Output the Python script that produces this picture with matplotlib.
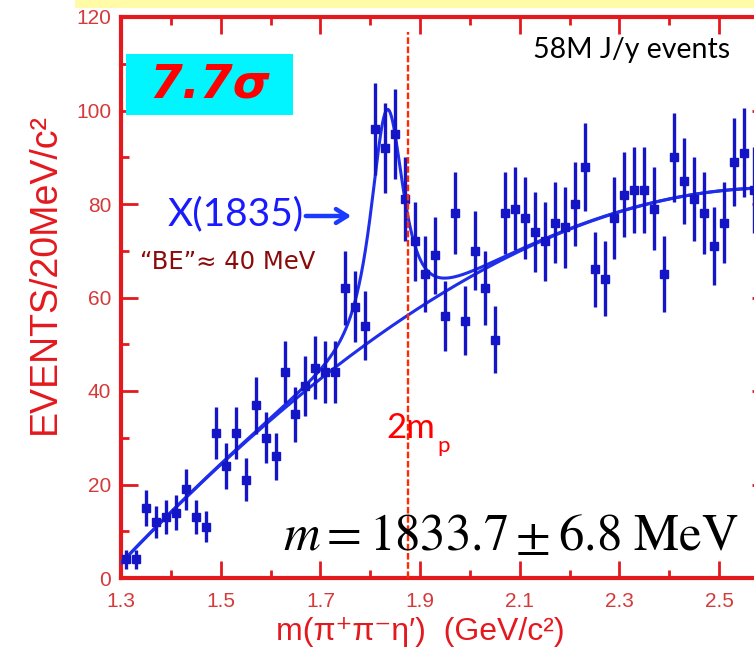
import numpy as np
import matplotlib
matplotlib.use("Agg")
import matplotlib.pyplot as plt
from matplotlib.patches import Rectangle, FancyArrowPatch

# ---- data: pi+ pi- eta' invariant mass, 20 MeV bins ----
bin_lo = 1.30          # GeV
bin_width = 0.02       # GeV
counts = [4, 4, 15, 12, 13, 14, 19, 13, 11, 31,
          24, 31, 21, 37, 30, 26, 44, 35, 41, 45,
          44, 44, 62, 58, 54, 96, 92, 95, 81, 72,
          65, 69, 56, 78, 55, 70, 62, 51, 78, 79,
          77, 74, 72, 76, 75, 80, 88, 66, 64, 77,
          82, 83, 83, 79, 65, 90, 85, 81, 78, 71,
          76, 89, 91, 83]
errors = [2.0, 2.0, 3.9, 3.5, 3.6, 3.7, 4.4, 3.6, 3.3, 5.6,
          4.9, 5.6, 4.6, 6.1, 5.5, 5.1, 6.6, 5.9, 6.4, 6.7,
          6.6, 6.6, 7.9, 7.6, 7.3, 9.8, 9.6, 9.7, 9.0, 8.5,
          8.1, 8.3, 7.5, 8.8, 7.4, 8.4, 7.9, 7.1, 8.8, 8.9,
          8.8, 8.6, 8.5, 8.7, 8.7, 8.9, 9.4, 8.1, 8.0, 8.8,
          9.1, 9.1, 9.1, 8.9, 8.1, 9.5, 9.2, 9.0, 8.8, 8.4,
          8.7, 9.4, 9.5, 9.1]
centers = bin_lo + bin_width * (np.arange(len(counts)) + 0.5)

# background shape sampled along the fitted curve
bkg_mass = [1.30, 1.40, 1.50, 1.60, 1.72, 1.88, 2.03, 2.22, 2.41, 2.57]
bkg_level = [3.5, 13.5, 24.0, 34.0, 45.0, 56.0, 66.0, 75.5, 81.4, 83.3]

# X(1835) signal parameters
peak_mass = 1.8337     # GeV
peak_height = 47.0
peak_scale = 0.05
peak_power = 1.5
two_mp = 2 * 0.93827   # GeV

x_ticks = [1.3, 1.5, 1.7, 1.9, 2.1, 2.3, 2.5]
y_ticks = [0, 20, 40, 60, 80, 100, 120]

# ---- figure ----
W, H = 754, 657
fig = plt.figure(figsize=(W / 100, H / 100), dpi=100)
fig.patch.set_facecolor("white")


def fx(px):
    return px / W


def fy(py):
    return 1 - py / H


# yellow strip at the top
fig.patches.append(Rectangle((fx(75), fy(8)), fx(754) - fx(75), 8 / H,
                             transform=fig.transFigure, facecolor="#FFFBA6",
                             edgecolor="none", zorder=0))

ax = fig.add_axes([fx(121), fy(578), (769 - 121) / W, (578 - 17) / H])
ax.set_xlim(1.3, 2.6)
ax.set_ylim(0, 120)

red = "#E3191E"
tick_red = "#D43A3A"
blue_pts = "#1515C8"
blue_fit = "#1E2EEA"

for s in ax.spines.values():
    s.set_color(red)
    s.set_linewidth(3.0)

ax.set_xticks(x_ticks)
ax.set_xticks(np.array(x_ticks[:-1]) + 0.1, minor=True)
ax.set_yticks(y_ticks)
ax.set_yticks(np.array(y_ticks[:-1]) + 10, minor=True)
ax.set_xticklabels([f"{v:.1f}" for v in x_ticks])
ax.set_yticklabels([str(v) for v in y_ticks])
ax.tick_params(which="both", direction="in", top=True, right=True,
               color=red, width=2.0, labelcolor=tick_red,
               labelsize=15)
ax.tick_params(which="major", length=12)
ax.tick_params(which="minor", length=6)
ax.tick_params(axis="x", which="major", pad=10)
ax.tick_params(axis="y", which="major", pad=7)
for lab in ax.get_xticklabels() + ax.get_yticklabels():
    lab.set_family("Liberation Sans")

# fit curves
m = np.linspace(1.30, 2.60, 600)
coef = np.polyfit(bkg_mass, bkg_level, 3)
bkg = np.polyval(coef, m)
sig = peak_height / (1 + ((m - peak_mass) / peak_scale) ** 2) ** peak_power
ax.plot(m, bkg, color=blue_fit, lw=2.2, zorder=3)
ax.plot(m, bkg + sig, color=blue_fit, lw=2.2, zorder=3)

# data points
ax.errorbar(centers, counts, yerr=errors, fmt="s", color=blue_pts,
            ecolor=blue_pts, elinewidth=2.4, capsize=0, markersize=5.5,
            zorder=4)

# 2 m_p threshold
ax.axvline(two_mp, ymin=0, ymax=(578 - 32) / 561, color="#FF2A00",
           lw=1.7, linestyle=(0, (2.8, 1.1)), zorder=5)

# ---- annotations ----
fig.patches.append(Rectangle((fx(126), fy(115)), (293 - 126) / W, (115 - 54) / H,
                             transform=fig.transFigure, facecolor="#00F5FF",
                             edgecolor="none", zorder=2))
fig.text(fx(210), fy(85), "7.7σ", color="#FF0000", fontsize=34,
         fontweight="bold", fontstyle="italic", family="DejaVu Sans",
         ha="center", va="center", zorder=6)

fig.text(fx(533), fy(50), "58M J/y events", color="black", fontsize=20.5,
         family="Lato", ha="left", va="center")

fig.text(fx(168), fy(214), "X(1835)", color="#1A1AFF", fontsize=28,
         family="Lato", ha="left", va="center")
fig.patches.append(FancyArrowPatch((fx(303), fy(216)), (fx(354), fy(216)),
                                   transform=fig.transFigure,
                                   arrowstyle="->,head_length=8,head_width=5",
                                   color="#1A3AFF", lw=3.2, zorder=6))

fig.text(fx(140), fy(262), "\u201cBE\u201d\u2248 40 MeV", color="#8B0A0A",
         fontsize=17.5, family="DejaVu Sans", ha="left", va="center")

fig.text(fx(386), fy(428), "2m", color="#FF0000", fontsize=25,
         family="Lato", ha="left", va="center")
fig.text(fx(437), fy(446), "p", color="#FF0000", fontsize=16,
         family="Lato", ha="left", va="center")

plt.rcParams["mathtext.fontset"] = "stix"
fig.text(fx(283), fy(550), r"$m = 1833.7 \pm 6.8\ \mathrm{MeV}$",
         color="black", fontsize=36.5, ha="left", va="baseline")

fig.text(fx(45), fy(274), "EVENTS/20MeV/c\u00b2", color=red, fontsize=27,
         family=["Liberation Sans", "DejaVu Sans"], rotation=90,
         ha="center", va="center")
fig.text(fx(420), fy(632), "m(\u03c0\u207a\u03c0\u207b\u03b7\u2032)  (GeV/c\u00b2)",
         color=red, fontsize=23, family=["Liberation Sans", "DejaVu Sans"],
         ha="center", va="center")

fig.savefig("out.png", dpi=100)
